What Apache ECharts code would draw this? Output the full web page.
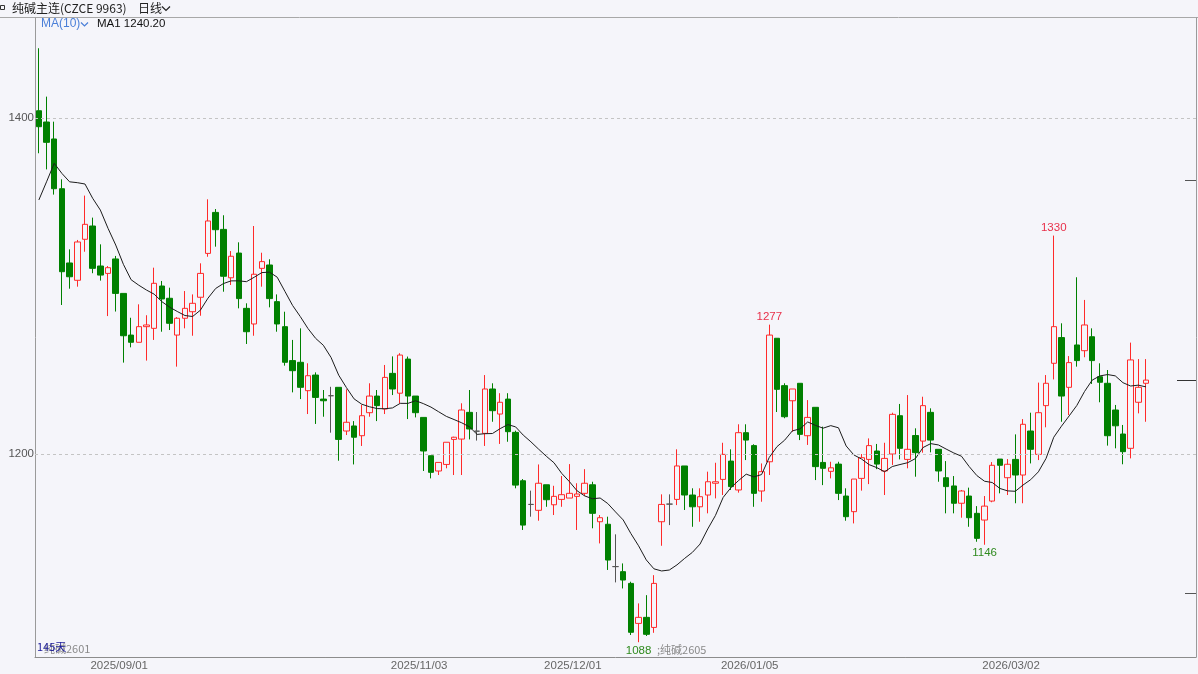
<!DOCTYPE html>
<html><head><meta charset="utf-8">
<script src="https://cdn.jsdelivr.net/npm/echarts@6/dist/echarts.min.js"></script>
<style>html,body{margin:0;padding:0;background:#f5f5fa;}#c{width:1198px;height:674px;}</style>
</head><body><div id="c"></div>
<script>
const opens=[1404.3,1397.6,1387.5,1357.9,1313.7,1303.4,1327.8,1335.7,1311.9,1307.5,
1316.1,1295.6,1270.8,1266.5,1275.8,1274.8,1300,1292.7,1270.8,1280.8,
1284.7,1293.3,1319.4,1343.8,1333.7,1304.9,1319.6,1286.7,1277.4,1310.5,
1312.5,1290.7,1275.8,1255.6,1254.6,1237.7,1247,1232.7,1234.7,1239.7,
1213.7,1216.7,1210.9,1224.6,1234.5,1226.8,1248,1236.2,1256.5,1234.5,
1221.8,1199,1189.9,1193.8,1208.7,1208.9,1224.8,1213.6,1212.3,1238.7,
1223.8,1232.7,1212.9,1184.1,1170,1166.5,1181.7,1169.8,1173,1173.8,
1174.8,1176.6,1181.7,1159.7,1158.2,1133,1130,1123,1099.2,1102.8,
1096.8,1159.7,1170.2,1173,1192.9,1175.6,1168.6,1175.6,1182.6,1184.9,
1195.8,1178.6,1212.7,1205,1178,1195.4,1268.9,1240.7,1231.7,1242.1,
1210.9,1227.8,1195,1189.7,1194,1175,1165.7,1185.5,1196.8,1201.8,
1189.9,1200,1222.8,1196.8,1211,1207.7,1224.8,1202.8,1185.9,1181,
1170.7,1175,1164.7,1160.7,1172,1197,1185.9,1196.8,1187.5,1213.7,
1199.8,1228.8,1254,1269.3,1239.7,1264.9,1261.5,1269.8,1246,1242.1,
1226.2,1211.9,1203.4,1230.8,1242.1];
const closes=[1394.8,1385.5,1357.9,1308.5,1305.5,1326.2,1336.7,1310.5,1306.5,1310.9,
1295.6,1270.4,1266.5,1275.8,1276.8,1301.6,1292.3,1277.8,1280.8,1286.7,
1289.7,1307.5,1338.7,1333.5,1305.8,1317.7,1292.5,1272.8,1307,1314.5,
1292.5,1277.4,1254.6,1249.6,1239.7,1246.6,1233.7,1231.7,1234.7,1208.7,
1218.9,1210,1222.8,1234.5,1228.8,1245.6,1238.7,1258.9,1234.5,1224.6,
1201.8,1189.1,1195,1207,1210,1226.2,1214.9,1213.6,1238.7,1225.8,
1230.8,1213.3,1181.5,1157.7,1170,1182.6,1172.8,1174.8,1175.8,1176.6,
1176.2,1182.6,1164.7,1162.1,1136.9,1133,1125,1093.9,1102.8,1092.7,
1123,1170,1170.2,1192.9,1175.6,1168.6,1174.6,1183.5,1183.5,1199.8,
1180.6,1212.7,1208.3,1176.6,1189.5,1270.8,1238.5,1222.2,1238.7,1211.7,
1221.8,1192.5,1191.5,1191.8,1176.6,1162.7,1185.1,1197.8,1205,1194,
1197.4,1223.6,1203.4,1202.8,1200.8,1228.8,1208.3,1189.9,1180.6,1170.7,
1178,1162.1,1149.8,1169,1193.3,1193.3,1193.9,1187.5,1217.7,1202.8,
1224.6,1242.1,1275.8,1234.5,1254.4,1255.6,1276.8,1255.6,1242.7,1210.9,
1216.8,1201.4,1256,1239.7,1244];
const lows=[1379,1369.4,1354.4,1288.7,1298.4,1299.6,1320.4,1307.6,1303.2,1282.1,
1284.8,1254.4,1263.5,1266.5,1255.6,1267.9,1272.8,1273.8,1252,1274.8,
1270.4,1282.3,1317.4,1323.4,1296.6,1300.6,1286.7,1265.5,1270.4,1299.6,
1287.3,1272.8,1252.6,1236.7,1232.7,1223.8,1217.9,1222.2,1212.7,1196,
1211.3,1193.8,1204.8,1222.2,1219.6,1223.8,1235.1,1230.2,1220.8,1221.8,
1189.9,1185.5,1187.5,1191.5,1187.5,1187.5,1208.7,1208,1204.8,1219.2,
1206,1207.3,1179.6,1154.8,1162.7,1160.3,1168.6,1163.7,1168.6,1173.8,
1154.8,1175,1155.8,1146.8,1131,1123.6,1120,1092.3,1088,1091.7,
1093.6,1145.4,1157.7,1169.6,1166.7,1156.7,1159.7,1164.7,1173.6,1175.6,
1178.6,1177,1196.4,1168.6,1171.6,1187.5,1225,1221.3,1213.3,1208.3,
1205.4,1184.5,1181.5,1185.5,1172.6,1160.3,1158.7,1178.2,1182.1,1191,
1175.6,1193.5,1196.8,1191.5,1186.5,1200.8,1201,1183.5,1164.7,1164.7,
1162.1,1156.7,1147.8,1146,1171.3,1176.6,1175.6,1170.7,1170.7,1194.4,
1196.4,1215.9,1244.4,1219.2,1223.2,1252,1257.6,1241.7,1230.8,1205,
1203.4,1193.9,1197.4,1224.2,1219.2];
const highs=[1441.5,1412.7,1397.8,1363.5,1321.8,1327.4,1353.8,1340.7,1324.8,1311.9,
1317.9,1295.6,1281.1,1289.1,1282.6,1310.9,1303,1299,1281.5,1297,
1295,1313.5,1351.6,1345.8,1342.1,1320.8,1326,1289.7,1335.7,1319.8,
1315.9,1295,1284.7,1267.9,1274.8,1254,1248.6,1238.1,1240,1239.7,
1238.5,1219.6,1229.2,1242.1,1238.1,1253,1258.1,1260,1258,1234.5,
1221.8,1199,1195,1207,1210.3,1230.2,1238.1,1225,1247,1242.1,
1236.2,1236.2,1213.9,1185.1,1178.2,1193.8,1181.7,1181.1,1186.9,1194,
1182.6,1191,1183.5,1163.7,1162.7,1152.2,1134.9,1124,1111.1,1116,
1127.9,1176,1176,1202.8,1192.9,1179.6,1179.6,1189.5,1194.8,1206.7,
1202.8,1217.7,1217.7,1205.8,1194.4,1277,1268.9,1242.1,1238.7,1242.1,
1232.1,1227.8,1216.3,1195.4,1195.4,1179.6,1185.1,1200,1209.3,1206,
1206.7,1224.6,1229.8,1235.1,1215.3,1234.1,1227.2,1202.8,1195.8,1186.9,
1178.6,1180,1169,1175,1195.2,1197,1197,1211.7,1220.8,1224.6,
1242.5,1247,1330,1277.8,1258.3,1305.2,1291.7,1274.8,1254,1250,
1229.2,1217.3,1266.3,1256.5,1256.5];
// MA(10) values of the first 9 days (they depend on days before the window)
const maHead=[1351.2,1362,1373,1367,1362,1361.5,1360.7,1352.2,1345.2];
const tickLabels=[[10,'2025/09/01'],[49,'2025/11/03'],[69,'2025/12/01'],[92,'2026/01/05'],[126,'2026/03/02']];
const gridLevels=[1400,1200];
const rightTicks=[1363,1117];
const extremes=[{i:95,field:'high'},{i:132,field:'high'},{i:78,field:'low'},{i:123,field:'low'}];
const emptySlots=6;

const n=closes.length;
const categories=Array.from({length:n+emptySlots},(_,i)=>String(i));
const candles=opens.map((o,i)=>[o,closes[i],lows[i],highs[i]]);
const ma=closes.map((c,i)=>{
  if(i<9) return maHead[i];
  let s=0; for(let k=i-9;k<=i;k++) s+=closes[k]; return +(s/10).toFixed(2);
});
const tickMap=new Map(tickLabels);
const lastClose=closes[n-1];
const FONT='"Liberation Sans","Noto Sans CJK SC",sans-serif';

const chart=echarts.init(document.getElementById('c'),null,{renderer:'canvas'});
chart.setOption({
  animation:false,
  backgroundColor:'#f5f5fa',
  grid:{left:35,right:2,top:18,bottom:17},
  xAxis:{type:'category',data:categories,boundaryGap:true,
    axisLine:{show:true,lineStyle:{color:'#8c8c8c',width:1}},
    axisTick:{show:false},splitLine:{show:false},
    axisLabel:{interval:(idx)=>tickMap.has(idx),formatter:(v,idx)=>tickMap.get(idx)||'',
      color:'#666',fontSize:11.5,fontFamily:FONT,margin:3,padding:[0,0,0,7]}},
  yAxis:[
    {type:'value',min:1079.2,max:1459.5,position:'left',scale:true,
      axisLine:{show:true,lineStyle:{color:'#9a9a9a'}},axisTick:{show:false},
      axisLabel:{show:false},splitLine:{show:false}},
    {type:'value',min:1079.2,max:1459.5,position:'right',
      axisLine:{show:true,lineStyle:{color:'#9a9a9a'}},
      axisTick:{show:true,inside:true,length:11,customValues:rightTicks,lineStyle:{color:'#555'}},
      axisLabel:{show:false},splitLine:{show:false}},
    {type:'value',min:1079.2,max:1459.5,position:'right',
      axisLine:{show:false},
      axisTick:{show:true,inside:true,length:19,customValues:[lastClose],lineStyle:{color:'#333'}},
      axisLabel:{show:false},splitLine:{show:false}}
  ],
  series:[
    {type:'candlestick',data:candles,barWidth:6,z:2,
      itemStyle:{color:'#f5f5fa',color0:'#008000',borderColor:'#ff2a2a',borderColor0:'#008000',
        borderColorDoji:'#555',borderWidth:1},
      markLine:{silent:true,symbol:['none','none'],
        lineStyle:{color:'#c4c4c4',type:[3,3],width:1},
        label:{show:true,position:'start',distance:1,color:'#555',fontSize:11.5,fontFamily:FONT,formatter:(p)=>String(p.value)},
        data:gridLevels.map(v=>({yAxis:v}))},
      markPoint:{silent:true,symbol:'rect',symbolSize:[1,1],itemStyle:{color:'rgba(0,0,0,0)'},
        data:extremes.map(e=>{
          const v=e.field==='high'?highs[e.i]:lows[e.i];
          const up=e.field==='high';
          return {coord:[e.i,v],value:Math.round(v),
            label:{show:true,position:up?'top':'bottom',distance:2,
              color:up?'#e8304a':'#2f8a1e',fontSize:11.5,fontFamily:FONT,formatter:String(Math.round(v))}};
        })}
    },
    {type:'line',data:ma,showSymbol:false,symbol:'none',z:3,
      lineStyle:{color:'#1c1c1c',width:1},silent:true}
  ],
  graphic:[
    {type:'line',shape:{x1:0,y1:17.5,x2:1198,y2:17.5},style:{stroke:'#a8a8a8',lineWidth:1},silent:true},
    {type:'rect',shape:{x:0.5,y:5.5,width:4,height:4},style:{fill:'none',stroke:'#333',lineWidth:1}},
    {type:'text',left:12,top:2,style:{text:'纯碱主连(CZCE 9963)',fill:'#222',font:'12px "Noto Sans CJK SC",sans-serif'}},
    {type:'text',left:138,top:2,style:{text:'日线',fill:'#222',font:'12px "Noto Sans CJK SC",sans-serif'}},
    {type:'polyline',shape:{points:[[162,6.5],[166,10.5],[170,6.5]]},style:{stroke:'#222',lineWidth:1.2,fill:'none'}},
    {type:'text',left:41,top:18,style:{text:'MA(10)',fill:'#4a7fd8',font:'12px '+FONT}},
    {type:'polyline',shape:{points:[[81,22.5],[84.5,26],[88,22.5]]},style:{stroke:'#4a7fd8',lineWidth:1.2,fill:'none'}},
    {type:'text',left:97,top:18,style:{text:'MA1 1240.20',fill:'#111',font:'11.5px '+FONT}},
    {type:'text',left:44,top:643,style:{text:'纯碱2601',fill:'#8a8a8a',font:'11px "Noto Sans CJK SC",sans-serif'}},
    {type:'text',left:37,top:641,style:{text:'145天',fill:'#1a1a9a',font:'11px "Noto Sans CJK SC",sans-serif'}},
    {type:'text',left:657,top:644,style:{text:';纯碱2605',fill:'#8a8a8a',font:'11px "Noto Sans CJK SC",sans-serif'}}
  ]
});
</script></body></html>
